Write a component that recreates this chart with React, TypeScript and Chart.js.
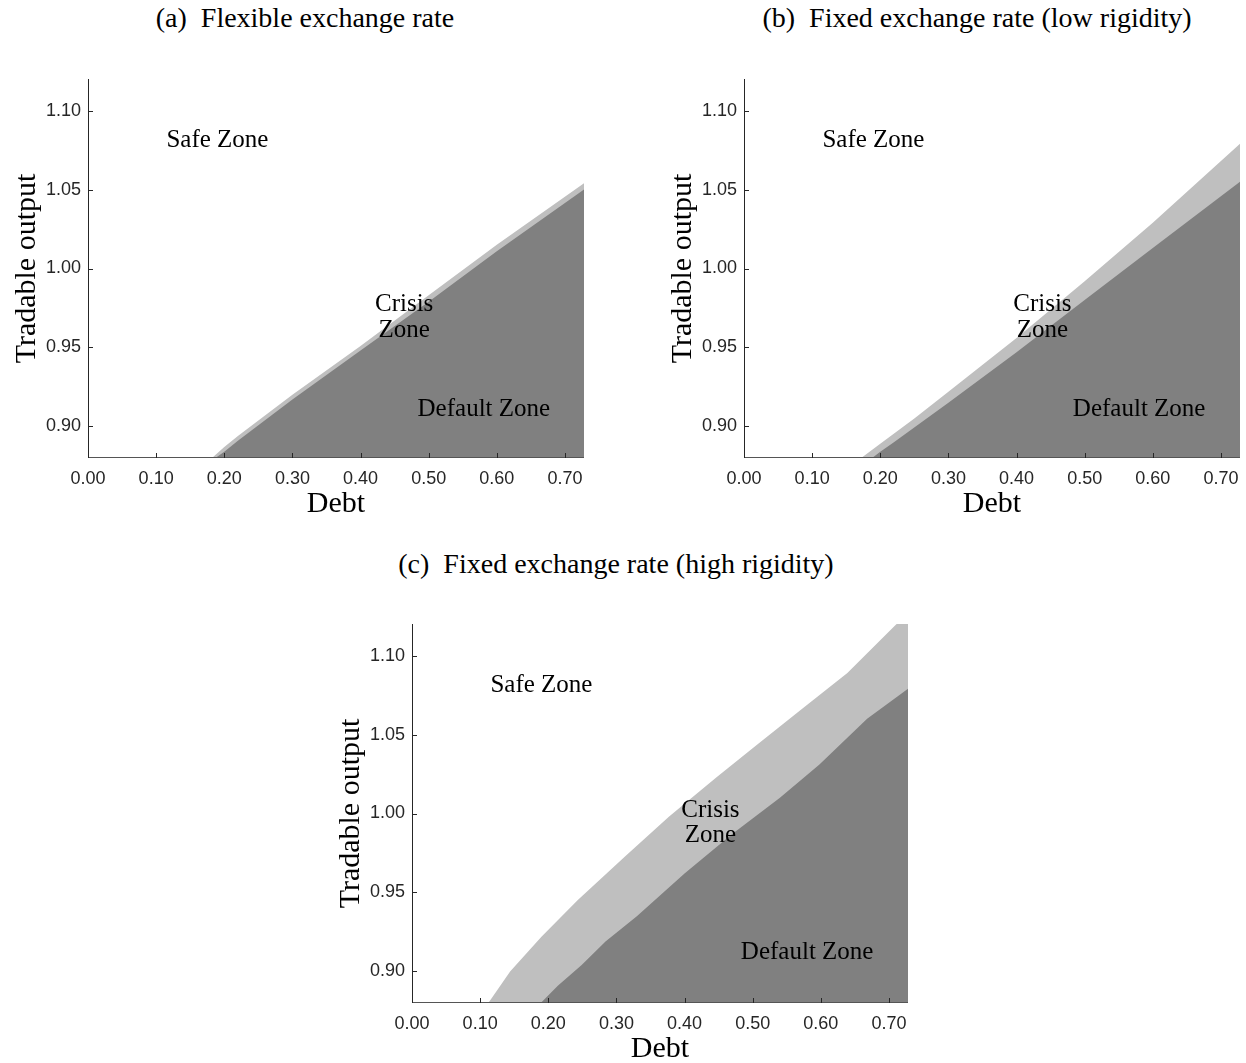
import React, { useEffect, useRef } from "react";
import { Chart, registerables } from "chart.js";

Chart.register(...registerables);

// ---------- shared axes ----------
const xTicks = [0, 0.1, 0.2, 0.3, 0.4, 0.5, 0.6, 0.7];
const yTicks = [0.9, 0.95, 1.0, 1.05, 1.1];
const xMin = 0;
const xMax = 0.728;
const yMin = 0.88;
const yMax = 1.12;

const xTitle = "Debt";
const yTitle = "Tradable output";
const zoneNames = ["Safe Zone", "Crisis", "Zone", "Default Zone"];

// ---------- (a) Flexible exchange rate ----------
const aCrisisDebt = [0.182, 0.2, 0.22, 0.3, 0.4, 0.5, 0.6, 0.728];
const aCrisisOutput = [0.88, 0.887, 0.894, 0.92, 0.951, 0.983, 1.015, 1.054];
const aDefaultDebt = [0.187, 0.2, 0.22, 0.3, 0.4, 0.5, 0.6, 0.728];
const aDefaultOutput = [0.88, 0.884, 0.891, 0.917, 0.948, 0.979, 1.011, 1.05];
const aLabelDebt = [0.19, 0.464, 0.464, 0.581];
const aLabelOutput = [1.081, 0.977, 0.961, 0.911];

// ---------- (b) Fixed exchange rate (low rigidity) ----------
const bCrisisDebt = [0.172, 0.2, 0.25, 0.3, 0.4, 0.5, 0.6, 0.728];
const bCrisisOutput = [0.88, 0.889, 0.905, 0.922, 0.956, 0.992, 1.029, 1.079];
const bDefaultDebt = [0.188, 0.2, 0.22, 0.3, 0.4, 0.5, 0.6, 0.728];
const bDefaultOutput = [0.88, 0.884, 0.89, 0.915, 0.947, 0.98, 1.013, 1.055];
const bLabelDebt = [0.19, 0.438, 0.438, 0.58];
const bLabelOutput = [1.081, 0.977, 0.961, 0.911];

// ---------- (c) Fixed exchange rate (high rigidity) ----------
const cCrisisDebt = [0.112, 0.125, 0.144, 0.19, 0.243, 0.313, 0.377, 0.447, 0.505, 0.569, 0.639, 0.709, 0.728];
const cCrisisOutput = [0.88, 0.888, 0.9, 0.922, 0.945, 0.973, 0.998, 1.023, 1.043, 1.065, 1.089, 1.119, 1.127];
const cDefaultDebt = [0.189, 0.214, 0.249, 0.284, 0.33, 0.4, 0.47, 0.54, 0.598, 0.668, 0.728];
const cDefaultOutput = [0.88, 0.891, 0.904, 0.919, 0.935, 0.962, 0.987, 1.01, 1.031, 1.06, 1.079];
const cLabelDebt = [0.19, 0.438, 0.438, 0.58];
const cLabelOutput = [1.081, 1.002, 0.986, 0.912];

const panelTitles = [
  "(a)  Flexible exchange rate",
  "(b)  Fixed exchange rate (low rigidity)",
  "(c)  Fixed exchange rate (high rigidity)",
];

const CRISIS_COLOR = "#bfbfbf";
const DEFAULT_COLOR = "#808080";
const AXIS_COLOR = "#262626";

type Panel = {
  title: string;
  left: number;
  top: number;
  titleX: number;
  titleY: number;
  crisisDebt: number[];
  crisisOutput: number[];
  defaultDebt: number[];
  defaultOutput: number[];
  labelDebt: number[];
  labelOutput: number[];
};

const Y_AXIS_W = 88;
const X_AXIS_H = 64;
const PAD_TOP = 40;
const PAD_RIGHT = 10;
const PLOT_W = 496;
const PLOT_H = 379;
const CANVAS_W = Y_AXIS_W + PLOT_W + PAD_RIGHT;
const CANVAS_H = PAD_TOP + PLOT_H + X_AXIS_H;

const panels: Panel[] = [
  {
    title: panelTitles[0],
    left: 88 - Y_AXIS_W,
    top: 79 - PAD_TOP,
    titleX: 305,
    titleY: 18,
    crisisDebt: aCrisisDebt,
    crisisOutput: aCrisisOutput,
    defaultDebt: aDefaultDebt,
    defaultOutput: aDefaultOutput,
    labelDebt: aLabelDebt,
    labelOutput: aLabelOutput,
  },
  {
    title: panelTitles[1],
    left: 744 - Y_AXIS_W,
    top: 79 - PAD_TOP,
    titleX: 977,
    titleY: 18,
    crisisDebt: bCrisisDebt,
    crisisOutput: bCrisisOutput,
    defaultDebt: bDefaultDebt,
    defaultOutput: bDefaultOutput,
    labelDebt: bLabelDebt,
    labelOutput: bLabelOutput,
  },
  {
    title: panelTitles[2],
    left: 412 - Y_AXIS_W,
    top: 624 - PAD_TOP,
    titleX: 616,
    titleY: 564,
    crisisDebt: cCrisisDebt,
    crisisOutput: cCrisisOutput,
    defaultDebt: cDefaultDebt,
    defaultOutput: cDefaultOutput,
    labelDebt: cLabelDebt,
    labelOutput: cLabelOutput,
  },
];

const toPoints = (xs: number[], ys: number[]) => xs.map((x, i) => ({ x, y: ys[i] }));

function makeOverlay(p: Panel) {
  return {
    id: "overlay",
    afterDatasetsDraw(chart: any) {
      const { ctx, chartArea, scales } = chart;
      const xs = scales.x;
      const ys = scales.y;
      ctx.save();
      ctx.strokeStyle = AXIS_COLOR;
      ctx.lineWidth = 1;
      ctx.beginPath();
      ctx.moveTo(chartArea.left + 0.5, chartArea.top);
      ctx.lineTo(chartArea.left + 0.5, chartArea.bottom);
      ctx.stroke();
      ctx.strokeStyle = "#555555";
      ctx.beginPath();
      ctx.moveTo(chartArea.left, chartArea.bottom - 0.5);
      ctx.lineTo(chartArea.right, chartArea.bottom - 0.5);
      ctx.stroke();
      ctx.strokeStyle = AXIS_COLOR;
      xTicks.forEach((v) => {
        const px = Math.round(xs.getPixelForValue(v)) + 0.5;
        ctx.beginPath();
        ctx.moveTo(px, chartArea.bottom);
        ctx.lineTo(px, chartArea.bottom - 5);
        ctx.stroke();
      });
      yTicks.forEach((v) => {
        const py = Math.round(ys.getPixelForValue(v)) + 0.5;
        ctx.beginPath();
        ctx.moveTo(chartArea.left, py);
        ctx.lineTo(chartArea.left + 5, py);
        ctx.stroke();
      });
      ctx.fillStyle = "#000000";
      ctx.font = '25px "Liberation Serif"';
      ctx.textAlign = "center";
      ctx.textBaseline = "middle";
      zoneNames.forEach((name, i) => {
        ctx.fillText(name, xs.getPixelForValue(p.labelDebt[i]), ys.getPixelForValue(p.labelOutput[i]));
      });
      ctx.restore();
    },
  };
}

function PanelChart({ p }: { p: Panel }) {
  const ref = useRef<HTMLCanvasElement | null>(null);
  useEffect(() => {
    if (!ref.current) return;
    const chart = new Chart(ref.current, {
      type: "line",
      data: {
        datasets: [
          {
            label: "Default Zone",
            data: toPoints(p.defaultDebt, p.defaultOutput),
            backgroundColor: DEFAULT_COLOR,
            borderColor: DEFAULT_COLOR,
            borderWidth: 0,
            pointRadius: 0,
            tension: 0,
            fill: "start",
          },
          {
            label: "Crisis Zone",
            data: toPoints(p.crisisDebt, p.crisisOutput),
            backgroundColor: CRISIS_COLOR,
            borderColor: CRISIS_COLOR,
            borderWidth: 0,
            pointRadius: 0,
            tension: 0,
            fill: "start",
          },
        ],
      },
      options: {
        animation: false,
        responsive: false,
        events: [],
        layout: { padding: { top: PAD_TOP, right: PAD_RIGHT, left: 0, bottom: 0 } },
        plugins: {
          legend: { display: false },
          tooltip: { enabled: false },
          title: { display: false },
        },
        scales: {
          x: {
            type: "linear",
            min: xMin,
            max: xMax,
            afterBuildTicks: (s: any) => {
              s.ticks = xTicks.map((v) => ({ value: v }));
            },
            afterFit: (s: any) => {
              s.height = X_AXIS_H;
            },
            grid: { display: false, drawTicks: false },
            border: { display: false },
            ticks: {
              autoSkip: false,
              maxRotation: 0,
              padding: 10,
              color: AXIS_COLOR,
              font: { family: "Liberation Sans", size: 18 },
              callback: (v: any) => Number(v).toFixed(2),
            },
            title: {
              display: true,
              text: xTitle,
              color: "#000000",
              font: { family: "Liberation Serif", size: 30, lineHeight: 1.2 },
              padding: { top: 0, bottom: 0 },
            },
          },
          y: {
            type: "linear",
            min: yMin,
            max: yMax,
            afterBuildTicks: (s: any) => {
              s.ticks = yTicks.map((v) => ({ value: v }));
            },
            afterFit: (s: any) => {
              s.width = Y_AXIS_W;
            },
            grid: { display: false, drawTicks: false },
            border: { display: false },
            ticks: {
              autoSkip: false,
              padding: 7,
              color: AXIS_COLOR,
              font: { family: "Liberation Sans", size: 18 },
              callback: (v: any) => Number(v).toFixed(2),
            },
            title: {
              display: true,
              text: yTitle,
              color: "#000000",
              font: { family: "Liberation Serif", size: 30, lineHeight: 1.2 },
              padding: { top: 9, bottom: 0 },
            },
          },
        },
      },
      plugins: [makeOverlay(p)],
    } as any);
    return () => chart.destroy();
  }, [p]);

  return (
    <>
      <div
        style={{
          position: "absolute",
          left: p.titleX - 400,
          top: p.titleY - 16,
          width: 800,
          height: 32,
          lineHeight: "32px",
          textAlign: "center",
          fontFamily: '"Liberation Serif", serif',
          fontSize: 28,
          whiteSpace: "pre",
          color: "#000",
        }}
      >
        {p.title}
      </div>
      <canvas
        ref={ref}
        width={CANVAS_W}
        height={CANVAS_H}
        style={{ position: "absolute", left: p.left, top: p.top, width: CANVAS_W, height: CANVAS_H }}
      />
    </>
  );
}

export default function App() {
  return (
    <div
      style={{
        position: "absolute",
        left: 0,
        top: 0,
        width: 1246,
        height: 1063,
        overflow: "hidden",
        background: "#ffffff",
      }}
    >
      {panels.map((p, i) => (
        <PanelChart key={i} p={p} />
      ))}
    </div>
  );
}
